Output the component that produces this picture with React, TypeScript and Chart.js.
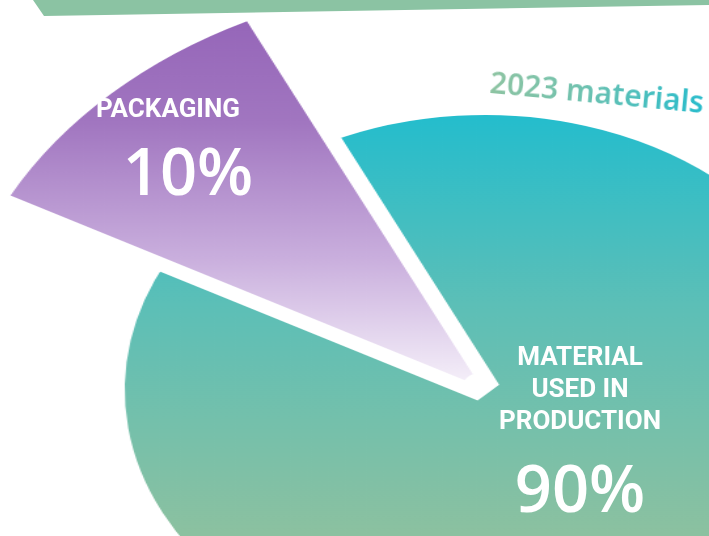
import React, { useEffect, useRef } from "react";
import { Chart, registerables } from "chart.js";

Chart.register(...registerables);

// ---- data ----
const categories = ["MATERIAL USED IN PRODUCTION", "PACKAGING"];
const shares = [90, 10];
const valueLabels = ["90%", "10%"];
const titleParts = ["2023", "materials"];

// ---- layout (page pixels) ----
const SIZE = 1100;
const CX = 485;
const CY = 390;
const STRETCH_X = 1.31;
const ROTATION = -26;

export default function App() {
  const baseRef = useRef<HTMLCanvasElement>(null);
  const topRef = useRef<HTMLCanvasElement>(null);

  useEffect(() => {
    const top = CY - SIZE / 2;
    const c1 = baseRef.current!;
    const c2 = topRef.current!;
    const g1 = c1.getContext("2d")!;
    const g2 = c2.getContext("2d")!;

    const teal = g1.createLinearGradient(0, 115 - top, 0, 536 - top);
    teal.addColorStop(0, "#24bdcd");
    teal.addColorStop(0.45, "#5cbfb7");
    teal.addColorStop(1, "#8cc1a0");

    const purple = g2.createLinearGradient(0, 10 - top, 0, 395 - top);
    purple.addColorStop(0, "#9464b8");
    purple.addColorStop(0.3, "#a176c0");
    purple.addColorStop(0.65, "#c9aedd");
    purple.addColorStop(1, "#f8f4fb");

    const common = {
      responsive: false,
      animation: false as const,
      events: [] as any[],
      rotation: ROTATION,
      layout: { padding: 0 },
      plugins: { legend: { display: false }, tooltip: { enabled: false } },
    };

    const chartA = new Chart(c1, {
      type: "pie",
      data: {
        labels: categories,
        datasets: [
          {
            data: shares,
            backgroundColor: [teal, "rgba(0,0,0,0)"],
            borderColor: ["#ffffff", "rgba(0,0,0,0)"],
            borderWidth: [24, 0],
            borderAlign: "center",
            borderJoinStyle: "bevel",
            radius: 287,
          } as any,
        ],
      },
      options: common as any,
    });

    const chartB = new Chart(c2, {
      type: "pie",
      data: {
        labels: categories,
        datasets: [
          {
            data: shares,
            backgroundColor: ["rgba(0,0,0,0)", purple],
            borderWidth: 0,
            offset: [0, 18],
            radius: 405,
          } as any,
        ],
      },
      options: { ...common, cutout: "3%" } as any,
    });

    return () => {
      chartA.destroy();
      chartB.destroy();
    };
  }, []);

  const canvasStyle: React.CSSProperties = {
    position: "absolute",
    left: CX - SIZE / 2,
    top: CY - SIZE / 2,
    width: SIZE,
    height: SIZE,
    transform: `scaleX(${STRETCH_X})`,
    transformOrigin: "50% 50%",
  };

  const white: React.CSSProperties = {
    position: "absolute",
    color: "#ffffff",
    fontFamily: "Roboto, 'Noto Sans', sans-serif",
    whiteSpace: "nowrap",
    textAlign: "center",
    transform: "translateX(-50%)",
  };

  const big: React.CSSProperties = {
    ...white,
    fontFamily: "'Open Sans', 'Noto Sans', sans-serif",
    fontSize: 65,
    fontWeight: 600,
    lineHeight: 1,
  };

  return (
    <div
      style={{
        position: "fixed",
        left: 0,
        top: 0,
        width: 709,
        height: 536,
        overflow: "hidden",
        background: "#ffffff",
      }}
    >
      <div
        style={{
          position: "absolute",
          left: 0,
          top: 0,
          width: 709,
          height: 17,
          background: "#8bc3a3",
          clipPath: "polygon(33px 0, 709px 0, 709px 5px, 44px 16px)",
        }}
      />
      <canvas ref={baseRef} width={SIZE} height={SIZE} style={canvasStyle} />
      <canvas ref={topRef} width={SIZE} height={SIZE} style={canvasStyle} />

      <div
        style={{
          position: "absolute",
          left: 597,
          top: 92,
          transform: "translate(-50%, -50%) rotate(5.4deg)",
          fontFamily: "'Noto Sans', sans-serif",
          fontWeight: 600,
          fontSize: 30,
          lineHeight: "36px",
          whiteSpace: "nowrap",
          background: "linear-gradient(90deg, #8ec4a2 0%, #72c2ae 40%, #28bccc 100%)",
          WebkitBackgroundClip: "text",
          backgroundClip: "text",
          color: "transparent",
        }}
      >
        {titleParts[0]} {titleParts[1]}
      </div>

      <div style={{ ...white, left: 168, top: 95, fontSize: 26, fontWeight: 700, lineHeight: 1 }}>
        {categories[1]}
      </div>
      <div style={{ ...big, left: 188, top: 138 }}>{valueLabels[1]}</div>

      <div
        style={{
          ...white,
          left: 580,
          top: 340,
          fontSize: 26,
          fontWeight: 700,
          lineHeight: "32px",
          width: 200,
        }}
      >
        MATERIAL
        <br />
        USED IN
        <br />
        PRODUCTION
      </div>
      <div style={{ ...big, left: 580, top: 455 }}>{valueLabels[0]}</div>
    </div>
  );
}
